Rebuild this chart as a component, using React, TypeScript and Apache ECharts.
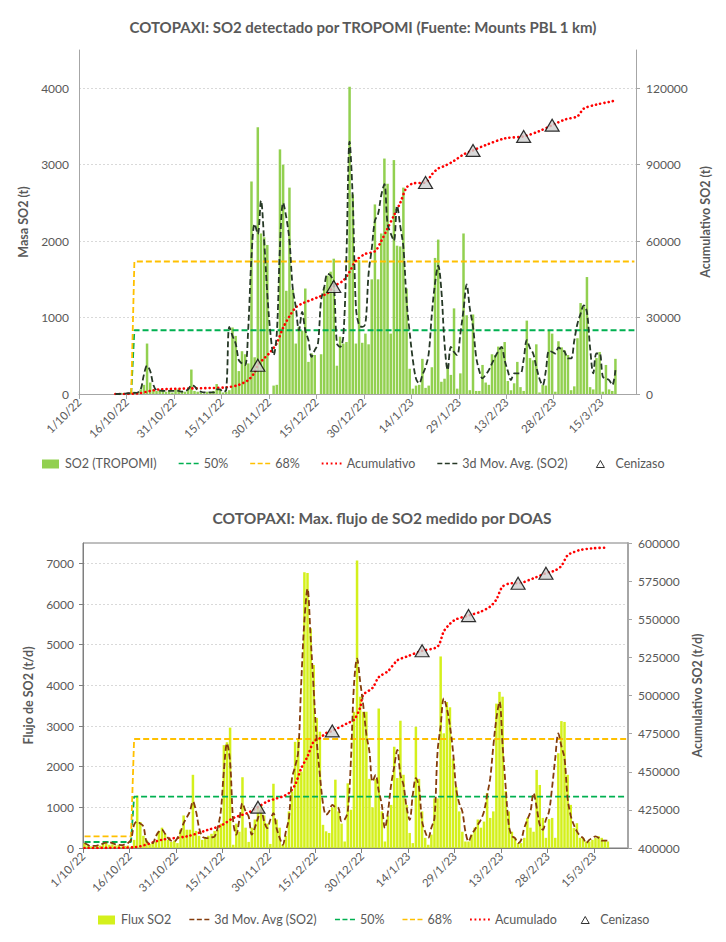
import React, { useEffect, useRef } from 'react';
import * as echarts from 'echarts';

// ---------- DATA ----------
// day 0 = 1/10/22
const FIRST_DATE = Date.UTC(2022, 9, 1);
const X_MAX = 176;
const TICK_DAYS = 15;

// Top chart: TROPOMI SO2 mass (t), one value per day starting at day 11
const tropomiStart = 11;
const tropomiSO2 = [
  5, 5, 10, 10, 10, 20, 30, 20, 60, 120,
  660, 150, 60, 40, 50, 40, 30, 50, 20, 60,
  70, 40, 30, 60, 320, 40, 30, 20, 10, 30,
  20, 40, 130, 60, 20, 30, 50, 870, 760, 300,
  560, 520, 400, 2780, 480, 3490, 2100, 2050, 1950, 0,
  110, 120, 3200, 3000, 1350, 2700, 1370, 660, 880, 830,
  1380, 420, 530, 510, 0, 520, 1400, 1550, 1600, 1770,
  370, 750, 660, 680, 4020, 2610, 660, 1750, 670, 790,
  650, 1500, 2480, 1500, 2100, 3080, 2750, 790, 3060, 1940,
  1930, 2700, 1380, 330, 70, 110, 120, 460, 80, 110,
  350, 1780, 2020, 160, 200, 380, 250, 1120, 70, 270,
  2100, 1030, 50, 1040, 40, 40, 380, 150, 120, 520,
  510, 620, 620, 680, 170, 50, 140, 420, 90, 40,
  960, 470, 440, 650, 20, 120, 110, 830, 790, 30,
  690, 610, 570, 510, 50, 100, 730, 1190, 1140, 1530,
  90, 60, 470, 550, 30, 380, 60, 40, 460,
];
const tropomiMA = [
  0, 0, 5, 5, 10, 10, 15, 20, 60, 250,
  370, 300, 120, 50, 45, 40, 40, 40, 40, 40,
  40, 30, 40, 60, 110, 100, 50, 30, 20, 20,
  20, 20, 60, 60, 30, 50, 877, 760, 660, 443,
  400, 378, 877, 1790, 2224, 2093, 2528, 2006, 1311, 790,
  508, 790, 1920, 2500, 2310, 2006, 1400, 1138, 834, 1073,
  834, 703, 486, 573, 660, 1225, 1400, 1572, 1550, 1442,
  660, 617, 747, 1800, 3300, 2550, 1138, 900, 877, 920,
  1572, 1900, 2267, 2354, 2600, 2745, 2224, 2100, 2006, 2462,
  2200, 1920, 1225, 800, 443, 200, 139, 248, 350, 530,
  1050, 1450, 1680, 1355, 660, 313, 617, 550, 508, 790,
  1100, 1433, 1116, 880, 486, 300, 204, 250, 313, 400,
  486, 560, 617, 443, 300, 182, 270, 270, 270, 450,
  704, 600, 530, 356, 200, 117, 300, 565, 550, 530,
  608, 580, 550, 465, 465, 700, 920, 1050, 1160, 1070,
  600, 270, 530, 530, 230, 200, 182, 117, 313,
];
const cumTopDays = [11, 18, 22, 25, 35, 46, 50, 53, 55, 56, 58, 60, 62, 64, 66, 68, 70, 72, 75, 78, 80, 83, 85, 87, 90, 93, 95, 97, 99, 101, 103, 105, 109, 111, 113, 115, 118, 121, 124, 128, 134, 140, 145, 149, 153, 157, 159, 163, 167, 169];
const cumTopVals = [0, 200, 1200, 1800, 2200, 2600, 3600, 5500, 8500, 11300, 14000, 16500, 20000, 26000, 30500, 34000, 35500, 36500, 38000, 39500, 42200, 44500, 48000, 52300, 55000, 56000, 60000, 65000, 70000, 75000, 81000, 82600, 83000, 86200, 88500, 89500, 91500, 94000, 95600, 97700, 100300, 101100, 103200, 105500, 107700, 109000, 112000, 113600, 114600, 115200];
const topThresholdDays = [16, 17, 175];
const top50 = [0, 834, 834];
const top68 = [0, 1733, 1733];

// Ash events (Cenizaso)
const cenizasoDays = [56, 80, 109, 124, 140, 149];
const cenizasoTop = [11300, 42200, 83000, 95600, 101100, 105500];
const cenizasoBottom = [426800, 476800, 529300, 552400, 573600, 580200];

// Bottom chart: DOAS flux (t/d), one value per day starting at day 0
const fluxStart = 0;
const fluxSO2 = [
  120, 60, 40, 30, 50, 60, 100, 120, 80, 90,
  60, 80, 40, 50, 60, 30, 200, 1290, 640, 300,
  200, 100, 120, 150, 420, 500, 350, 200, 150, 180,
  120, 450, 800, 450, 450, 1800, 420, 300, 200, 250,
  300, 350, 420, 450, 600, 2530, 2600, 2960, 80, 600,
  400, 1740, 500, 150, 500, 700, 1000, 1060, 800, 600,
  100, 1580, 700, 500, 80, 300, 900, 1390, 2610, 2700,
  1880, 6780, 6760, 5400, 4500, 3200, 2860, 570, 410, 370,
  1000, 1680, 900, 600, 160, 1590, 940, 3350, 7070, 3720,
  3350, 3350, 1700, 1000, 1700, 3430, 900, 160, 800, 1060,
  2490, 1720, 3130, 1800, 1060, 370, 120, 2980, 1700, 900,
  250, 80, 330, 1220, 1220, 4710, 2820, 3590, 3460, 2200,
  1500, 900, 400, 160, 160, 330, 500, 700, 500, 650,
  1350, 740, 900, 3550, 3840, 3720, 1400, 900, 400, 250,
  120, 120, 250, 740, 500, 400, 1920, 1550, 740, 250,
  710, 740, 250, 2330, 3120, 3100, 1800, 1060, 490, 610,
  250, 250, 160, 160, 200, 250, 290, 250, 200, 160,
];
const fluxMA = [
  122, 80, 40, 50, 60, 80, 110, 130, 140, 120,
  90, 80, 70, 90, 122, 200, 571, 653, 600, 530,
  163, 122, 122, 285, 400, 449, 350, 245, 180, 163,
  245, 400, 612, 750, 898, 1143, 900, 490, 285, 250,
  245, 260, 285, 500, 898, 1900, 2573, 2124, 653, 327,
  700, 1103, 900, 776, 327, 500, 735, 939, 653, 490,
  700, 857, 490, 250, 80, 400, 735, 1716, 2000, 2369,
  4100, 5600, 6372, 5200, 3900, 2614, 1800, 1100, 817, 900,
  1061, 1000, 980, 653, 700, 898, 2124, 4002, 4656, 4100,
  3512, 2800, 2369, 1633, 1797, 1400, 1061, 490, 900, 1552,
  2000, 2410, 1800, 1552, 1000, 694, 1307, 1716, 1500, 653,
  400, 245, 500, 735, 2369, 3000, 3677, 3431, 3000, 2369,
  1471, 1100, 898, 400, 163, 327, 450, 571, 700, 898,
  1300, 1716, 2500, 3186, 3595, 2532, 1500, 571, 300, 245,
  122, 200, 490, 700, 898, 1348, 1000, 571, 449, 700,
  898, 1500, 2206, 2818, 2500, 2206, 1225, 800, 571, 408,
  300, 245, 122, 200, 245, 286, 250, 180, 180, 180,
];
const cumBotDays = [0, 16, 25, 33, 40, 44, 48, 53, 56, 59, 62, 64, 66, 68, 70, 72, 74, 76, 78, 80, 85, 87, 89, 90, 93, 95, 98, 101, 104, 109, 114, 116, 118, 120, 124, 128, 131, 133, 135, 138, 140, 145, 149, 152, 154, 156, 158, 160, 164, 169];
const cumBotVals = [400000, 400500, 405400, 407600, 412000, 414600, 419600, 423300, 426800, 430500, 432500, 433800, 436000, 441500, 452400, 460000, 469800, 472000, 475300, 476800, 481900, 484000, 492000, 500400, 505000, 512000, 516000, 523000, 525500, 529300, 532100, 542000, 547000, 550000, 552400, 555000, 558300, 563000, 571400, 573600, 573600, 576900, 580200, 582000, 585000, 592000, 594000, 595400, 596500, 597000];
const botThresholdDays = [0, 15, 16, 175];
const bot50 = [147, 147, 1265, 1265];
const bot68 = [284, 284, 2680, 2680];

// ---------- HELPERS ----------
const FONT = 'Lato, "Open Sans", sans-serif';
const GREY = '#595959';

function dayLabel(d: number): string {
  const dt = new Date(FIRST_DATE + Math.round(d) * 86400000);
  return `${dt.getUTCDate()}/${dt.getUTCMonth() + 1}/${dt.getUTCFullYear() % 100}`;
}
const pos = (d: number) => d + 0.5;
const seriesFrom = (start: number, vals: number[]) => vals.map((v, i) => [pos(start + i), v]);
const pairs = (days: number[], vals: number[]) => days.map((d, i) => [pos(d), vals[i]]);
const plain = (v: number) => String(v);

function makeX(gridIndex: number, lineColor: string) {
  return {
    type: 'value', gridIndex, min: 0, max: X_MAX, interval: TICK_DAYS,
    axisLine: { show: true, onZero: false, lineStyle: { color: lineColor, width: 1 } },
    axisTick: { show: true, length: 5, lineStyle: { color: lineColor } },
    axisLabel: {
      rotate: 45, margin: 6, color: GREY, fontSize: 11.5, fontFamily: FONT,
      showMaxLabel: false, formatter: (v: number) => dayLabel(v),
    },
    splitLine: { show: false },
  };
}

const nameStyle = { color: GREY, fontSize: 12.5, fontWeight: 'bold', fontFamily: FONT };
const labelStyle = { color: GREY, fontSize: 12, fontFamily: FONT, formatter: plain };
const gridLine = { show: true, showMaxLine: false, lineStyle: { color: '#d9d9d9', type: [2, 2], width: 1 } };

const dashed = (color: string, width = 1.8) => ({ color, width, type: [6, 3] });
const dotted = { color: '#ff0000', width: 2.6, type: [0.1, 4.2], cap: 'round' };
const triangleStyle = { color: '#d0d0d0', borderColor: '#000000', borderWidth: 1.2 };

// legend icons (20 x 10 boxes)
const ICON_BAR = 'path://M0,0M20,10M2,1H19V10H2Z';
const ICON_DASH = 'path://M0,0M20,10M0,4.2H5V5.8H0ZM7.5,4.2H12.5V5.8H7.5ZM15,4.2H20V5.8H15Z';
const ICON_DOT = 'path://M0,0M20,10M0,4.1H1.8V5.9H0ZM4.5,4.1H6.3V5.9H4.5ZM9,4.1H10.8V5.9H9ZM13.5,4.1H15.3V5.9H13.5ZM18,4.1H19.8V5.9H18Z';
const ICON_TRI = 'path://M0,0M20,10M6,9L10,2L14,9Z';
const legendItem = (name: string, icon: string, color: string, extra: any = {}) => ({
  name, icon, itemStyle: { color, borderWidth: 0, ...extra },
});
const triItem = (name: string) => ({
  name, icon: ICON_TRI, itemStyle: { color: '#ffffff', borderColor: '#000000', borderWidth: 1 },
});

const option: any = {
  animation: false,
  backgroundColor: '#ffffff',
  textStyle: { fontFamily: FONT },
  graphic: [
    {
      type: 'text', x: 363, y: 27,
      style: {
        text: 'COTOPAXI: SO2 detectado por TROPOMI (Fuente: Mounts PBL 1 km)',
        textAlign: 'center', textVerticalAlign: 'middle',
        fill: GREY, font: `bold 15px ${FONT}`,
      },
    },
    {
      type: 'text', x: 382, y: 518,
      style: {
        text: 'COTOPAXI: Max. flujo de SO2 medido por DOAS',
        textAlign: 'center', textVerticalAlign: 'middle',
        fill: GREY, font: `bold 15.5px ${FONT}`,
      },
    },
  ],
  legend: [
    {
      top: 452, left: 35, itemGap: 22, itemWidth: 20, itemHeight: 10, selectedMode: false,
      textStyle: { fontSize: 12.5, color: GREY, fontFamily: FONT },
      data: [
        legendItem('SO2 (TROPOMI)', ICON_BAR, '#92d050'),
        legendItem('50%', ICON_DASH, '#00b050'),
        legendItem('68%', ICON_DASH, '#ffc000'),
        legendItem('Acumulativo', ICON_DOT, '#ff0000'),
        legendItem('3d Mov. Avg. (SO2)', ICON_DASH, '#263826'),
        triItem('Cenizaso'),
      ],
    },
    {
      top: 908, left: 91, itemGap: 18, itemWidth: 20, itemHeight: 10, selectedMode: false,
      textStyle: { fontSize: 12.5, color: GREY, fontFamily: FONT },
      data: [
        legendItem('Flux SO2', ICON_BAR, '#d4f01c'),
        legendItem('3d Mov. Avg (SO2)', ICON_DASH, '#843c0c'),
        legendItem('50%', ICON_DASH, '#00b050'),
        legendItem('68%', ICON_DASH, '#ffc000'),
        legendItem('Acumulado', ICON_DOT, '#ff0000'),
        triItem('Cenizaso'),
      ],
    },
  ],
  grid: [
    { left: 79, width: 557, top: 50, height: 344 },
    { left: 83, width: 545, top: 543, height: 305, show: true, borderColor: '#7f7f7f', borderWidth: 1, backgroundColor: 'transparent' },
  ],
  xAxis: [makeX(0, '#a6a6a6'), makeX(1, '#7f7f7f')],
  yAxis: [
    {
      type: 'value', gridIndex: 0, position: 'left', min: 0, max: 4500, interval: 1000,
      axisLine: { show: true, lineStyle: { color: '#a6a6a6' } },
      axisTick: { show: false },
      axisLabel: { ...labelStyle, margin: 10, showMaxLabel: false },
      splitLine: gridLine,
      name: 'Masa SO2 (t)', nameLocation: 'middle', nameGap: 40, nameTextStyle: nameStyle,
    },
    {
      type: 'value', gridIndex: 0, position: 'right', min: 0, max: 135000, interval: 30000,
      axisLine: { show: true, lineStyle: { color: '#a6a6a6' } },
      axisTick: { show: true, length: 4, lineStyle: { color: '#a6a6a6' } },
      axisLabel: { ...labelStyle, margin: 10, showMaxLabel: false },
      splitLine: { show: false },
      name: 'Acumulativo SO2 (t)', nameLocation: 'middle', nameGap: 47, nameTextStyle: nameStyle,
    },
    {
      type: 'value', gridIndex: 1, position: 'left', min: 0, max: 7500, interval: 1000,
      axisLine: { show: true, lineStyle: { color: '#7f7f7f' } },
      axisTick: { show: true, length: 4, lineStyle: { color: '#7f7f7f' } },
      axisLabel: { ...labelStyle, margin: 9, showMaxLabel: false },
      splitLine: gridLine,
      name: 'Flujo de SO2 (t/d)', nameLocation: 'middle', nameGap: 46, nameTextStyle: nameStyle,
    },
    {
      type: 'value', gridIndex: 1, position: 'right', min: 400000, max: 600000, interval: 25000,
      axisLine: { show: true, lineStyle: { color: '#a6a6a6', width: 2 } },
      axisTick: { show: true, length: 4, lineStyle: { color: '#a6a6a6' } },
      axisLabel: { ...labelStyle, margin: 10 },
      splitLine: { show: false },
      name: 'Acumulativo SO2 (t/d)', nameLocation: 'middle', nameGap: 57, nameTextStyle: nameStyle,
    },
  ],
  series: [
    // ---- top ----
    {
      name: 'SO2 (TROPOMI)', type: 'bar', xAxisIndex: 0, yAxisIndex: 0, barWidth: 2.5,
      itemStyle: { color: '#92d050' }, data: seriesFrom(tropomiStart, tropomiSO2),
    },
    {
      name: '50%', type: 'line', xAxisIndex: 0, yAxisIndex: 0, symbol: 'none',
      lineStyle: dashed('#00b050', 1.8), itemStyle: { color: '#00b050' }, data: pairs(topThresholdDays, top50),
    },
    {
      name: '68%', type: 'line', xAxisIndex: 0, yAxisIndex: 0, symbol: 'none',
      lineStyle: dashed('#ffc000', 1.8), itemStyle: { color: '#ffc000' }, data: pairs(topThresholdDays, top68),
    },
    {
      name: 'Acumulativo', type: 'line', xAxisIndex: 0, yAxisIndex: 1, symbol: 'none', smooth: 0.3,
      lineStyle: dotted, itemStyle: { color: '#ff0000' }, data: pairs(cumTopDays, cumTopVals),
    },
    {
      name: '3d Mov. Avg. (SO2)', type: 'line', xAxisIndex: 0, yAxisIndex: 0, symbol: 'none', smooth: 0.35,
      lineStyle: dashed('#263826', 1.8), itemStyle: { color: '#263826' }, data: seriesFrom(tropomiStart, tropomiMA),
    },
    {
      name: 'Cenizaso', type: 'scatter', xAxisIndex: 0, yAxisIndex: 1, symbol: 'triangle', symbolSize: [14, 12],
      itemStyle: triangleStyle, z: 5, data: pairs(cenizasoDays, cenizasoTop),
    },
    // ---- bottom ----
    {
      name: 'Flux SO2', type: 'bar', xAxisIndex: 1, yAxisIndex: 2, barWidth: 2.5,
      itemStyle: { color: '#d4f01c' }, data: seriesFrom(fluxStart, fluxSO2),
    },
    {
      name: '50%', type: 'line', xAxisIndex: 1, yAxisIndex: 2, symbol: 'none',
      lineStyle: dashed('#00b050', 1.8), itemStyle: { color: '#00b050' }, data: pairs(botThresholdDays, bot50),
    },
    {
      name: '68%', type: 'line', xAxisIndex: 1, yAxisIndex: 2, symbol: 'none',
      lineStyle: dashed('#ffc000', 1.8), itemStyle: { color: '#ffc000' }, data: pairs(botThresholdDays, bot68),
    },
    {
      name: 'Acumulado', type: 'line', xAxisIndex: 1, yAxisIndex: 3, symbol: 'none', smooth: 0.3,
      lineStyle: dotted, itemStyle: { color: '#ff0000' }, data: pairs(cumBotDays, cumBotVals),
    },
    {
      name: '3d Mov. Avg (SO2)', type: 'line', xAxisIndex: 1, yAxisIndex: 2, symbol: 'none', smooth: 0.35,
      lineStyle: dashed('#843c0c', 1.8), itemStyle: { color: '#843c0c' }, data: seriesFrom(fluxStart, fluxMA),
    },
    {
      name: 'Cenizaso', type: 'scatter', xAxisIndex: 1, yAxisIndex: 3, symbol: 'triangle', symbolSize: [14, 12],
      itemStyle: triangleStyle, z: 5, data: pairs(cenizasoDays, cenizasoBottom),
    },
  ],
};

export default function App() {
  const ref = useRef<HTMLDivElement>(null);
  useEffect(() => {
    if (!ref.current) return;
    const chart = echarts.init(ref.current, null, { renderer: 'svg' });
    chart.setOption(option);
    return () => chart.dispose();
  }, []);
  return (
    <div
      ref={ref}
      style={{ position: 'absolute', left: 0, top: 0, width: 726, height: 942, background: '#ffffff' }}
    />
  );
}
